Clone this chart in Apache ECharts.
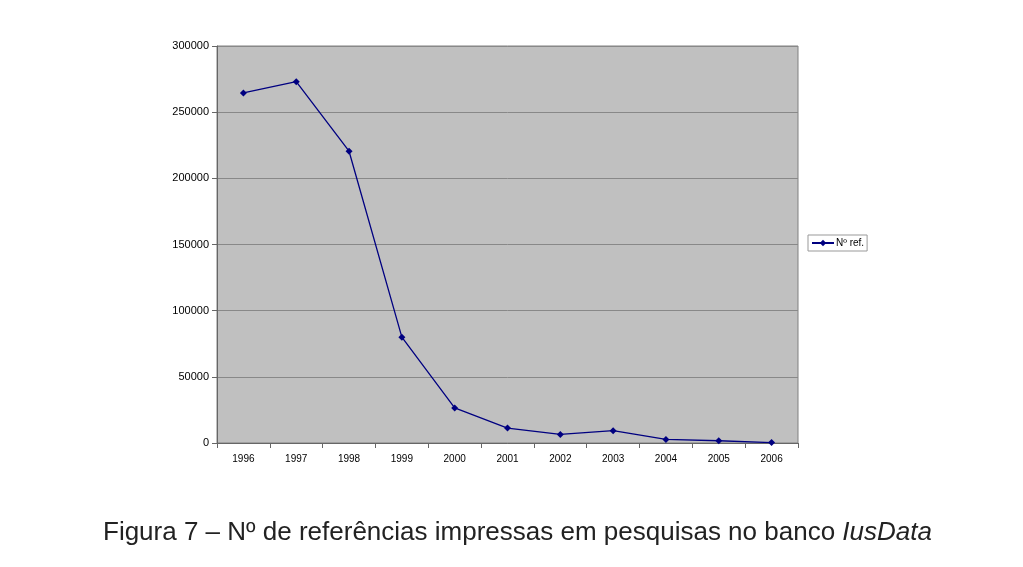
<!DOCTYPE html>
<html>
<head>
<meta charset="utf-8">
<script src="https://cdn.jsdelivr.net/npm/echarts@6/dist/echarts.min.js"></script>
<style>html,body{margin:0;padding:0;background:#fff}#c{width:1023px;height:567px}</style>
</head>
<body>
<div id="c"></div>
<script>
var years = ['1996','1997','1998','1999','2000','2001','2002','2003','2004','2005','2006'];
var refs = [264500, 273000, 220500, 80000, 26500, 11300, 6500, 9300, 2700, 1700, 300];
var seriesName = 'Nº ref.';

var chart = echarts.init(document.getElementById('c'));
chart.setOption({
  backgroundColor: '#ffffff',
  animation: false,
  textStyle: { fontFamily: 'Liberation Sans, Arial, sans-serif' },
  title: {
    text: '{n|Figura 7 – Nº de referências impressas em pesquisas no banco }{i|IusData}',
    left: 98,
    top: 515,
    textStyle: {
      fontWeight: 'normal',
      rich: {
        n: { fontSize: 26, color: '#222', fontWeight: 'normal', fontFamily: 'Liberation Sans, Arial, sans-serif' },
        i: { fontSize: 26, color: '#222', fontWeight: 'normal', fontStyle: 'italic', fontFamily: 'Liberation Sans, Arial, sans-serif' }
      }
    }
  },
  legend: {
    left: 808,
    top: 235,
    orient: 'vertical',
    backgroundColor: '#ffffff',
    borderColor: '#999',
    borderWidth: 1,
    padding: [3, 3, 3, 3],
    itemWidth: 22,
    itemHeight: 8,
    itemGap: 2,
    textStyle: { fontSize: 10, color: '#000', padding: [0,0,0,-3] },
    data: [seriesName]
  },
  grid: { left: 217, right: 225, top: 46, bottom: 124, show: true, backgroundColor: '#c0c0c0', borderColor: '#808080', borderWidth: 1 },
  xAxis: {
    type: 'category',
    data: years,
    boundaryGap: true,
    axisLine: { lineStyle: { color: '#666', width: 1 } },
    axisTick: { show: true, length: 5, lineStyle: { color: '#666' } },
    axisLabel: { fontSize: 10, color: '#000', margin: 11 },
    splitLine: { show: false }
  },
  yAxis: {
    type: 'value',
    min: 0,
    max: 300000,
    interval: 50000,
    axisLine: { show: true, lineStyle: { color: '#666', width: 1 } },
    axisTick: { show: true, length: 5, lineStyle: { color: '#666' } },
    axisLabel: { fontSize: 11, color: '#000', margin: 8, formatter: function (v) { return String(v); } },
    splitLine: { show: true, lineStyle: { color: '#888', width: 1 } }
  },
  series: [{
    name: seriesName,
    type: 'line',
    data: refs,
    symbol: 'diamond',
    symbolSize: 7,
    showAllSymbol: true,
    lineStyle: { color: '#000080', width: 1.3 },
    itemStyle: { color: '#000080' }
  }]
});
</script>
</body>
</html>
